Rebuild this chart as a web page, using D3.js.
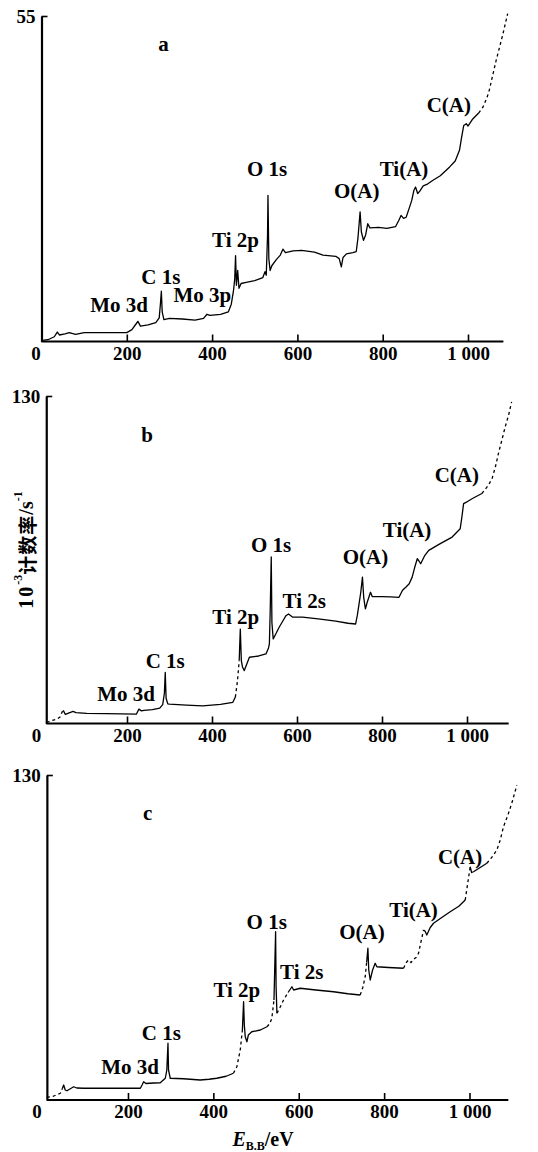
<!DOCTYPE html>
<html><head><meta charset="utf-8">
<script src="https://cdn.jsdelivr.net/npm/d3@7"></script>
<style>body{margin:0;background:#fff}svg{display:block}</style>
</head><body><svg id="chart" width="538" height="1152"></svg>
<script>
// ---------- data ----------
const xTickValues = [0, 200, 400, 600, 800, 1000];
const xTickLabels = ["0", "200", "400", "600", "800", "1 000"];
const yMaxA = 55, yMaxB = 130, yMaxC = 130;

// [binding energy eV, 10^-3 counts/s]
const spectrumA = [[2,0.2],[15,0.3],[30,0.8],[37,1.6],[42,1.1],[55,1.3],[65,1.5],[80,1.2],[100,1.5],[150,1.5],[200,1.5],[212,2.0],[222,3.0],[226,3.4],[232,2.6],[250,2.8],[268,3.2],[276,4.0],[279,6.5],[281,8.5],[283,5.0],[287,3.7],[300,3.9],[330,3.8],[360,3.6],[380,3.9],[388,4.6],[395,4.4],[420,4.6],[438,5.0],[445,6.3],[450,8.5],[453,10.5],[455,14.5],[457,9.5],[460,12.0],[463,9.0],[468,9.8],[480,10.0],[500,10.3],[519,10.8],[524,11.8],[527,11.2],[530,18],[531,24.7],[533,14],[536,12],[540,12.8],[550,13.8],[560,14.6],[566,15.6],[572,15.0],[590,15.3],[610,15.4],[640,15.1],[660,14.6],[690,14.4],[698,14.0],[703,12.6],[707,14.2],[715,14.8],[730,15.0],[738,15.2],[742,17.5],[747,21.9],[750,18.5],[755,17.1],[760,18.0],[765,19.9],[770,19.2],[790,19.3],[810,19.1],[830,19.4],[838,20.5],[843,21.3],[849,20.8],[855,21.0],[862,22.5],[868,23.8],[873,25.5],[877,26.1],[882,25.0],[887,25.4],[895,26.3],[905,26.6],[917,27.2],[935,28.0],[957,29.5],[970,30.5],[980,32.3],[985,34.5],[990,36.5],[996,36.8],[1000,36.4],[1010,37.5],[1025,38.6],[1035,39.6],[1045,41.3],[1050,42.5],[1058,45.0],[1066,47.5],[1075,50.0],[1082,52.0],[1093,55.4]];

const spectrumB = [[11,0.4],[20,1.0],[34,1.7],[42,2.5],[48,4.8],[50,5.2],[55,3.6],[73,4.8],[80,4.3],[105,4.0],[150,3.9],[222,3.7],[228,5.7],[234,5.0],[240,5.2],[260,5.5],[277,6.1],[284,7.5],[288,12],[290,20.3],[292,10],[296,7.8],[300,7.7],[340,7.3],[378,7.0],[420,7.6],[449,8.4],[455,10.5],[460,17.0],[464,25],[466.6,37.5],[469,25],[472,22.3],[476,21],[488,26.3],[510,26.8],[527,27.6],[533,30],[535,31.6],[537,45],[539.4,66.1],[541,40],[544,33.6],[550,35.5],[558,38.2],[566,40.5],[574,42.8],[580,43.5],[590,42.2],[613,42.2],[650,41.5],[691,40.6],[720,39.8],[738,39.5],[742,43],[746,47.5],[750,52],[754,58.1],[757,50],[761,45.5],[765,48],[773,52.1],[777,50.4],[800,50.4],[820,50.3],[840,50.1],[848,52.8],[852,53.5],[856,54.1],[864,55.5],[871,58.1],[877,62],[883,65.4],[887,64.5],[891,63.4],[900,66.5],[910,68.7],[935,71.2],[965,74],[984,77.3],[988,82],[992,87.3],[1000,88],[1015,89.5],[1035,91.3],[1050,94.5],[1059,97.2],[1067,102],[1074,107.2],[1082,112.5],[1090,117.8],[1098,122.5],[1105,127.7]];

const spectrumC = [[10,1.1],[25,1.5],[41.6,2.7],[46,4.5],[49.4,6.0],[53,4.0],[57,3.7],[65,4.5],[72.8,5.3],[80,4.8],[96,4.7],[150,4.7],[229,4.7],[233,6.0],[236.7,7.3],[242,6.6],[260,6.8],[275.7,6.9],[287.4,8.7],[291,12],[293.7,22.7],[295,12],[299,8.7],[330,8.5],[369,8.0],[390,8.3],[408,8.7],[430,9.5],[447,10.7],[455,13.3],[463,20],[468,28],[470.8,39.3],[472.5,30],[474.7,25.3],[478.6,23.3],[482,26],[490,27.3],[510,28],[525.5,29.3],[532,30.5],[537,32.7],[542,40],[545.8,67.3],[547,45],[548.9,34.7],[556,37],[564.5,40],[575,43],[584,45.3],[588,44],[603.5,44.7],[640,44],[681.6,43.3],[715,42.5],[744,42],[750,45],[755.7,49.3],[759,55],[762,60.7],[764,52],[767.4,48],[773,52],[779,54.7],[783,53.3],[810,53],[845.5,52.7],[852,55],[857,56],[863,55],[869,56.3],[875,57],[880.6,58.7],[892.3,68],[896,67.5],[900,66],[908,69],[915.7,70.7],[935,73],[954.7,75.3],[975,77.5],[990,80],[1001.6,93.3],[1005,91],[1009.4,91.3],[1025,93],[1040.6,94.7],[1052,97],[1064,100],[1072,104],[1079.6,109.3],[1090,114],[1099,118.7],[1111,126]];

// peak annotations: [text, eV, counts] (label centre in data units)
const peaksA = [["a",286,50.3],["Mo 3d",182,6.1],["C 1s",280,10.9],["Mo 3p",377,7.8],["Ti 2p",455,17.1],["O 1s",529,29.2],["O(A)",739,25.5],["Ti(A)",850,29.2],["C(A)",955,39.9]];
const peaksB = [["b",247,114.5],["Mo 3d",198,11.7],["C 1s",290,24.9],["Ti 2p",456,42.2],["O 1s",539,70.7],["Ti 2s",617,48.8],["O(A)",761,66.1],["Ti(A)",859,76.7],["C(A)",976,98.6]];
const peaksC = [["c",246,114.7],["Mo 3d",205,13.3],["C 1s",278,26.7],["Ti 2p",455,44],["O 1s",525,71.3],["Ti 2s",607,51.3],["O(A)",748,67.3],["Ti(A)",869,76],["C(A)",978,97.3]];

// energy ranges where the scanned trace is broken/dotted
const brokenA = [[1022,1100]];
const brokenB = [[11,50],[455,464],[1042,1110]];
const brokenC = [[10,46],[440,468],[526,542],[548,575],[744,759],[845,892.3],[990,1001.6],[1040,1115]];

// ---------- layout ----------
const panels = [
  {data: spectrumA, peaks: peaksA, broken: brokenA, yMax: yMaxA, x0: 41.5, x1: 468, yBase: 341.5, yTop: 16, axisFrom: 0, axisTo: 1083},
  {data: spectrumB, peaks: peaksB, broken: brokenB, yMax: yMaxB, x0: 42, x1: 467, yBase: 723.5, yTop: 396, axisFrom: 10, axisTo: 1098},
  {data: spectrumC, peaks: peaksC, broken: brokenC, yMax: yMaxC, x0: 42.6, x1: 469.5, yBase: 1100, yTop: 775, axisFrom: 10, axisTo: 1091}
];

const FONT = "'Liberation Serif','Times New Roman',serif";
const svg = d3.select("#chart");

panels.forEach(p => {
  const x = d3.scaleLinear().domain([0, 1000]).range([p.x0, p.x1]);
  const y = d3.scaleLinear().domain([0, p.yMax]).range([p.yBase, p.yTop]);
  const g = svg.append("g");
  const ax = x(p.axisFrom);

  // x axis line
  g.append("line").attr("x1", ax).attr("x2", x(p.axisTo))
    .attr("y1", y(0)).attr("y2", y(0)).attr("stroke", "#000").attr("stroke-width", 2.2);

  const xa = d3.axisBottom(x).tickValues(xTickValues)
    .tickFormat((d, i) => xTickLabels[i]).tickSizeInner(-7).tickSizeOuter(0).tickPadding(5);
  const gx = g.append("g").attr("transform", `translate(0,${y(0)})`).call(xa);
  gx.select(".domain").remove();
  gx.selectAll(".tick line").attr("stroke", "#000").attr("stroke-width", 1.6);
  gx.selectAll(".tick").filter(d => d === 0).select("line").remove();
  gx.selectAll(".tick text").attr("fill", "#000").attr("font-family", FONT)
    .attr("font-weight", "bold").attr("font-size", 19).attr("dx", d => d === 0 ? -6 : 0);

  // y axis
  const ya = d3.axisLeft(y).tickValues([p.yMax]).tickSizeInner(-6).tickSizeOuter(0).tickPadding(6);
  const gy = g.append("g").attr("transform", `translate(${ax},0)`).call(ya);
  gy.select(".domain").attr("stroke", "#000").attr("stroke-width", 2.2);
  gy.selectAll(".tick line").attr("stroke", "#000").attr("stroke-width", 1.6);
  gy.selectAll(".tick text").attr("fill", "#000").attr("font-family", FONT)
    .attr("font-weight", "bold").attr("font-size", 19);

  // spectrum, split into solid and broken runs
  const inBroken = e => p.broken.some(r => e >= r[0] && e <= r[1]);
  const runs = [];
  for (let i = 0; i < p.data.length - 1; i++) {
    const a = p.data[i], b = p.data[i + 1];
    const br = inBroken((a[0] + b[0]) / 2);
    const last = runs[runs.length - 1];
    if (last && last.br === br) last.pts.push(b);
    else runs.push({br, pts: [a, b]});
  }
  const line = d3.line().x(d => x(d[0])).y(d => y(d[1]));
  g.selectAll("path.trace").data(runs).join("path").attr("class", "trace")
    .attr("d", d => line(d.pts)).attr("fill", "none").attr("stroke", "#000")
    .attr("stroke-width", 1.3).attr("stroke-linejoin", "round")
    .attr("stroke-dasharray", d => d.br ? "3,3" : null);

  // peak labels
  g.selectAll("text.peak").data(p.peaks).join("text").attr("class", "peak")
    .attr("x", d => x(d[1])).attr("y", d => y(d[2]))
    .attr("text-anchor", "middle").attr("dominant-baseline", "central")
    .attr("font-family", FONT).attr("font-weight", "bold").attr("font-size", 21)
    .text(d => d[0]);
});

// y title
const yt = svg.append("text").attr("transform", "translate(26,550) rotate(-90)")
  .attr("text-anchor", "middle").attr("dominant-baseline", "central")
  .attr("font-family", FONT + ",'Noto Sans CJK SC'").attr("font-weight", "bold").attr("font-size", 20);
yt.append("tspan").attr("letter-spacing", 2).text("10");
yt.append("tspan").attr("font-size", 12).attr("dy", -8).text("-3");
yt.append("tspan").attr("dy", 8).attr("font-family", "'Noto Sans CJK SC'").attr("font-size", 19).attr("letter-spacing", 1).text("计数率");
yt.append("tspan").text("/s");
yt.append("tspan").attr("font-size", 12).attr("dy", -8).text("-1");

// x title
const xt = svg.append("text").attr("x", 263).attr("y", 1146).attr("text-anchor", "middle")
  .attr("font-family", FONT).attr("font-weight", "bold").attr("font-size", 20);
xt.append("tspan").attr("font-style", "italic").text("E");
xt.append("tspan").attr("font-size", 12).attr("dy", 4).text("B.B");
xt.append("tspan").attr("dy", -4).text("/eV");
</script></body></html>
